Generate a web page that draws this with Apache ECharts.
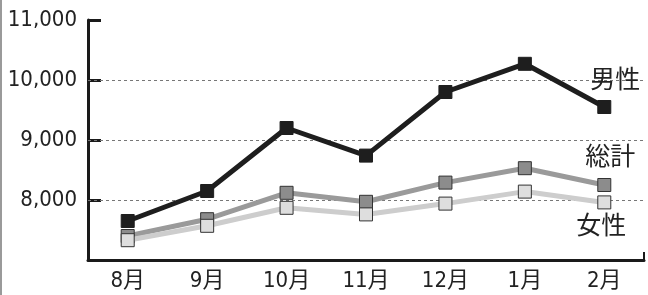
<!DOCTYPE html>
<html>
<head>
<meta charset="utf-8">
<script src="https://cdn.jsdelivr.net/npm/echarts@6/dist/echarts.min.js"></script>
<style>
  html, body { margin: 0; padding: 0; background: #fff; }
  #chart { width: 646px; height: 295px; border-left: 2px solid #9a9a9a; }
</style>
</head>
<body>
<div id="chart"></div>
<script>
// months on the x axis
const months = ["8月", "9月", "10月", "11月", "12月", "1月", "2月"];
// values
const male = [7650, 8150, 9200, 8740, 9800, 10270, 9550];
const total = [7400, 7680, 8120, 7970, 8290, 8530, 8250];
const female = [7330, 7570, 7870, 7760, 7940, 8140, 7960];
// dashed reference lines
const gridValues = [8000, 9000, 10000];

const FONT = '"Liberation Sans Narrow", "DejaVu Sans Condensed", "Noto Sans CJK JP", sans-serif';

const chart = echarts.init(document.getElementById("chart"));

const lastLabel = (name, offset) => ({
  show: true,
  position: "inside",
  offset: offset,
  color: "#222",
  fontSize: 25,
  fontFamily: FONT,
  formatter: (p) => (p.dataIndex === months.length - 1 ? name : ""),
});

chart.setOption({
  animation: false,
  grid: { left: 86, right: 4, top: 20, bottom: 35 },
  xAxis: {
    type: "category",
    data: months,
    boundaryGap: true,
    z: 5,
    axisLine: { lineStyle: { color: "#1a1a1a", width: 3 } },
    axisTick: { inside: true, alignWithLabel: true, length: 8, lineStyle: { color: "#1a1a1a", width: 2 } },
    axisLabel: { color: "#222", fontSize: 22, fontFamily: FONT, margin: 10 },
  },
  yAxis: {
    type: "value",
    min: 7000,
    max: 11000,
    interval: 1000,
    axisLine: { show: true, lineStyle: { color: "#1a1a1a", width: 3 } },
    axisTick: { show: true, inside: true, length: 13, lineStyle: { color: "#1a1a1a", width: 3 } },
    axisLabel: {
      showMinLabel: false,
      color: "#222",
      fontSize: 22,
      fontFamily: FONT,
      margin: 11,
      formatter: (v) => v.toLocaleString("en-US"),
    },
    splitLine: { show: false },
  },
  graphic: [
    {
      type: "line",
      shape: { x1: 642, y1: 260, x2: 642, y2: 252 },
      style: { stroke: "#1a1a1a", lineWidth: 2 },
    },
  ],
  series: [
    {
      name: "総計",
      type: "line",
      data: total,
      z: 2,
      symbol: "rect",
      symbolSize: 13,
      lineStyle: { color: "#9a9a9a", width: 5 },
      itemStyle: { color: "#8c8c8c", borderColor: "#333", borderWidth: 1 },
      label: lastLabel("総計", [6, -27]),
      markLine: {
        silent: true,
        symbol: "none",
        label: { show: false },
        lineStyle: { color: "#777", type: [3, 3], width: 1 },
        data: gridValues.map((v) => ({ yAxis: v })),
        z: 1,
      },
    },
    {
      name: "女性",
      type: "line",
      data: female,
      z: 3,
      symbol: "rect",
      symbolSize: 13,
      lineStyle: { color: "#cdcdcd", width: 5 },
      itemStyle: { color: "#dedede", borderColor: "#333", borderWidth: 1 },
      label: lastLabel("女性", [-3, 25]),
    },
    {
      name: "男性",
      type: "line",
      data: male,
      z: 4,
      symbol: "rect",
      symbolSize: 13,
      lineStyle: { color: "#1e1e1e", width: 5 },
      itemStyle: { color: "#1e1e1e", borderColor: "#1e1e1e", borderWidth: 1 },
      label: lastLabel("男性", [11, -26]),
    },
  ],
});
</script>
</body>
</html>
